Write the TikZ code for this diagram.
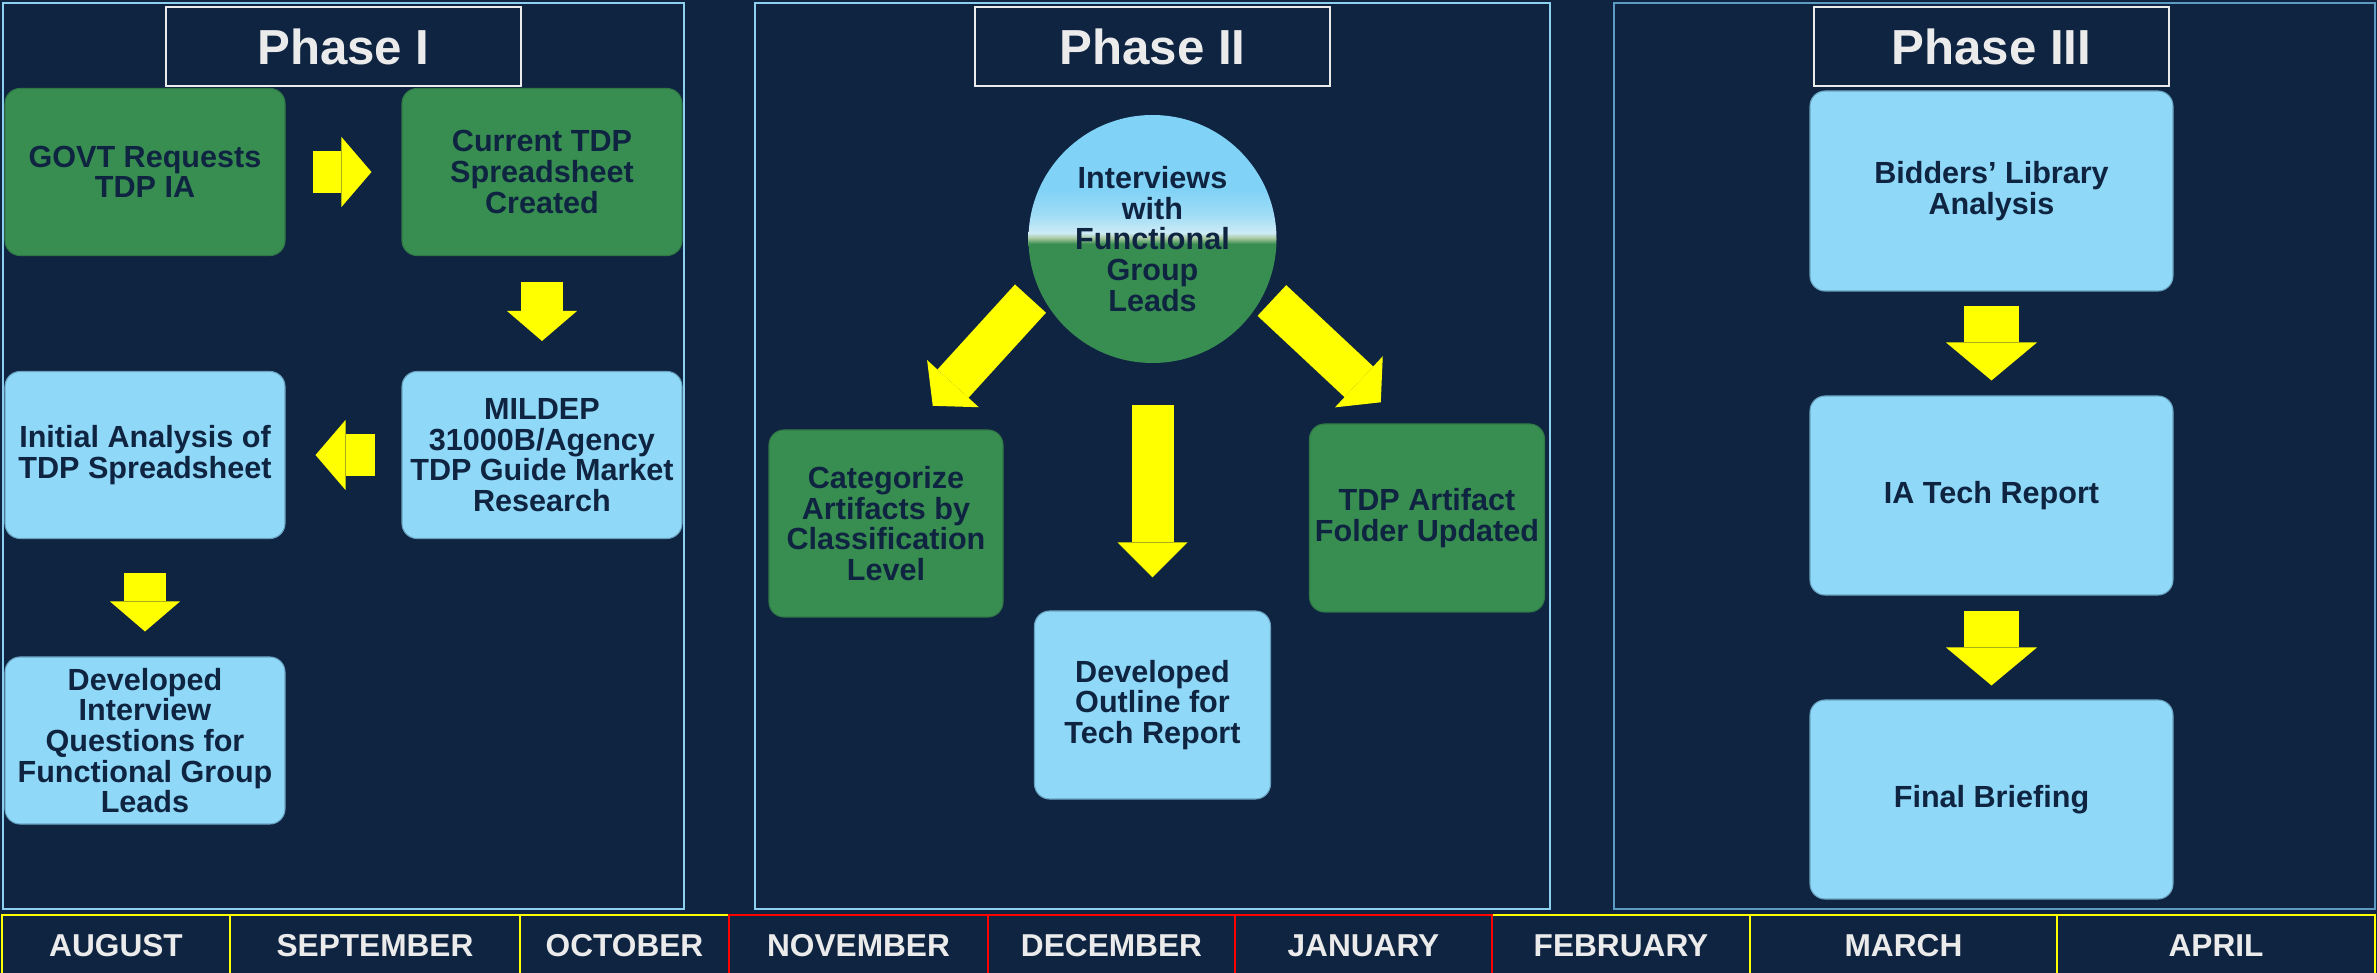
\documentclass[tikz,border=0pt]{standalone}
\usepackage{fontspec}
\setmainfont{Liberation Sans}
\usepackage{tikz}
\usetikzlibrary{arrows.meta}
\definecolor{navybg}{HTML}{0F2441}
\definecolor{leafgreen}{HTML}{388D51}
\definecolor{paleblue}{HTML}{8FD8F7}
\definecolor{framecyan}{HTML}{8CCFEF}
\definecolor{framesteel}{HTML}{5D9CC2}
\definecolor{titlegray}{HTML}{EBEBEB}
\definecolor{monthred}{HTML}{FF0000}
\definecolor{monthyellow}{HTML}{FFFF00}
\definecolor{arrowyellow}{HTML}{FFFF00}
\definecolor{skytop}{HTML}{80D2F6}
\definecolor{skymid}{HTML}{9FDCF6}
\definecolor{horizonpale}{HTML}{CDEBF5}
\definecolor{horizongreen}{HTML}{A8C8A0}
\pgfdeclareverticalshading{horizon}{100bp}{color(0bp)=(leafgreen); color(49bp)=(leafgreen);
  color(50.2bp)=(horizongreen); color(51.2bp)=(horizonpale); color(55bp)=(skymid);
  color(60bp)=(skytop); color(100bp)=(skytop)}
\newcommand{\blockfont}{\fontsize{8.7}{8.7}\selectfont\bfseries}
\newcommand{\phasefont}{\fontsize{14}{16}\selectfont\bfseries}
\newcommand{\monthfont}{\fontsize{9}{10}\selectfont\bfseries}
\tikzstyle{greenblock} = [rectangle, draw=leafgreen!85!black, line width=0.3pt, fill=leafgreen,
    text=navybg, font=\blockfont, align=center, rounded corners=0.15cm, inner sep=0pt,
    minimum width=2.8cm, minimum height=1.67cm]
\tikzstyle{blueblock} = [greenblock, draw=paleblue!70!navybg, fill=paleblue]
\tikzstyle{titlebox} = [rectangle, draw=titlegray, line width=0.6pt, fill=navybg, text=titlegray,
    font=\phasefont, minimum width=3.55cm, minimum height=0.79cm]
\tikzstyle{phaseframe} = [draw=framecyan, line width=0.6pt]
\tikzstyle{monthbox} = [rectangle, draw=monthyellow, line width=0.6pt, text=titlegray,
    font=\monthfont, minimum height=0.62cm, inner sep=0pt]
\tikzstyle{blockarrow} = [draw=arrowyellow, line width=0.42cm, -{Triangle[width=0.7cm,length=0.3cm,line width=0pt]}]
\tikzstyle{widearrow} = [draw=arrowyellow, line width=0.55cm, -{Triangle[width=0.91cm,length=0.38cm,line width=0pt]}]
\begin{document}
\begin{tikzpicture}[y=-1cm]
    \useasboundingbox (0,0) rectangle (23.77,9.73);
    \fill[navybg] (0,0) rectangle (23.77,9.73);
    % Phase frames
    \draw[phaseframe] (0.03,0.03) rectangle (6.84,9.09);
    \draw[phaseframe] (7.55,0.03) rectangle (15.50,9.09);
    \draw[phaseframe, draw=framesteel] (16.14,0.03) rectangle (23.75,9.09);

    % Phase I
    \node [titlebox] (phaseone) at (3.435,0.465) {Phase I};
    \node [greenblock] (govt) at (1.45,1.72) {GOVT Requests\\TDP IA};
    \node [greenblock] (current) at (5.42,1.72) {Current TDP\\Spreadsheet\\Created};
    \node [blueblock] (mildep) at (5.42,4.55) {MILDEP\\31000B/Agency\\TDP Guide Market\\Research};
    \node [blueblock] (initial) at (1.45,4.55) {Initial Analysis of\\TDP Spreadsheet};
    \node [blueblock] (questions) at (1.45,7.405) {Developed\\Interview\\Questions for\\Functional Group\\Leads};

    % Phase II
    \node [titlebox] (phasetwo) at (11.525,0.465) {Phase II};
    \node [circle, shade, shading=horizon, text=navybg, font=\blockfont, align=center,
        inner sep=0pt, minimum size=2.48cm] (interviews) at (11.525,2.39)
        {Interviews\\with\\Functional\\Group\\Leads};
    \node [greenblock, minimum width=2.34cm, minimum height=1.87cm] (categorize) at (8.86,5.235)
        {Categorize\\Artifacts by\\Classification\\Level};
    \node [blueblock, minimum width=2.36cm, minimum height=1.88cm] (outline) at (11.525,7.05)
        {Developed\\Outline for\\Tech Report};
    \node [greenblock, minimum width=2.35cm, minimum height=1.88cm] (artifact) at (14.27,5.18)
        {TDP Artifact\\Folder Updated};

    % Phase III
    \node [titlebox] (phasethree) at (19.915,0.465) {Phase III};
    \node [blueblock, minimum width=3.63cm, minimum height=2.0cm] (bidders) at (19.915,1.91)
        {Bidders’ Library\\Analysis};
    \node [blueblock, minimum width=3.63cm, minimum height=1.99cm] (techreport) at (19.915,4.955)
        {IA Tech Report};
    \node [blueblock, minimum width=3.63cm, minimum height=1.99cm] (briefing) at (19.915,7.995)
        {Final Briefing};

    % Draw edges
    \path[blockarrow, shorten <=0.27cm, shorten >=0.30cm] (govt) -- (current);
    \path[blockarrow, shorten <=0.26cm, shorten >=0.30cm] (current) -- (mildep);
    \path[blockarrow, shorten <=0.26cm, shorten >=0.30cm] (mildep) -- (initial);
    \path[blockarrow, shorten <=0.34cm, shorten >=0.25cm] (initial) -- (questions);
    \path[blockarrow, shorten <=0.12cm, shorten >=0.32cm] (interviews.204) -- (categorize.75);
    \path[blockarrow, -{Triangle[width=0.7cm,length=0.35cm,line width=0pt]},
        shorten <=0.41cm, shorten >=0.33cm] (interviews) -- (outline);
    \path[blockarrow, shorten <=0.10cm, shorten >=0.31cm] (interviews.334) -- (artifact.104);
    \path[widearrow, shorten <=0.14cm, shorten >=0.15cm] (bidders) -- (techreport);
    \path[widearrow, shorten <=0.15cm, shorten >=0.14cm] (techreport) -- (briefing);

    % Months
    \node [monthbox, minimum width=2.28cm] (aug) at (1.16,9.46) {AUGUST};
    \node [monthbox, minimum width=2.90cm] (sep) at (3.75,9.46) {SEPTEMBER};
    \node [monthbox, minimum width=2.09cm] (oct) at (6.245,9.46) {OCTOBER};
    \node [monthbox, minimum width=2.58cm] (feb) at (16.21,9.46) {FEBRUARY};
    \node [monthbox, minimum width=3.07cm] (mar) at (19.035,9.46) {MARCH};
    \node [monthbox, minimum width=3.18cm] (apr) at (22.16,9.46) {APRIL};
    \node [monthbox, draw=monthred, minimum width=2.59cm] (nov) at (8.585,9.46) {NOVEMBER};
    \node [monthbox, draw=monthred, minimum width=2.47cm] (dec) at (11.115,9.46) {DECEMBER};
    \node [monthbox, draw=monthred, minimum width=2.57cm] (jan) at (13.635,9.46) {JANUARY};
\end{tikzpicture}
\end{document}
